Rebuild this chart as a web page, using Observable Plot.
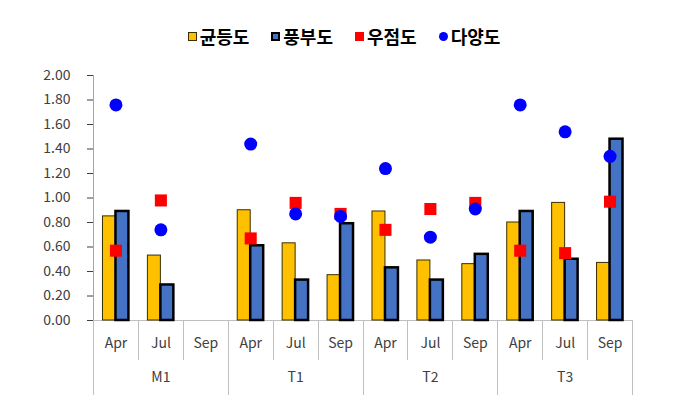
<!DOCTYPE html>
<html><head><meta charset="utf-8">
<script src="https://cdn.jsdelivr.net/npm/d3@7"></script>
<script src="https://cdn.jsdelivr.net/npm/@observablehq/plot@0.6"></script>
<style>
body{margin:0;background:#fff;}
#wrap{position:relative;width:688px;height:401px;}
#legend{position:absolute;top:0;left:0;width:688px;height:72px;display:flex;justify-content:center;align-items:center;font-family:"Noto Sans CJK KR",sans-serif;font-weight:700;font-size:18px;color:#000;z-index:2;}
.item{display:flex;align-items:center;margin:0 11px;}
.sw{width:9px;height:9px;margin-right:3px;box-sizing:border-box;}
</style></head><body><div id="wrap"><div id="legend"></div></div>
<script>
const groups = ["M1", "T1", "T2", "T3"];
const months = ["Apr", "Jul", "Sep"];
const seriesNames = ["균등도", "풍부도", "우점도", "다양도"];
const seriesColors = ["#FFC000", "#4472C4", "#FF0000", "#0000FF"];
// order: M1 Apr, Jul, Sep, T1 Apr, Jul, Sep, T2 ..., T3 ...
const evenness  = [0.85, 0.53, null, 0.90, 0.63, 0.37, 0.89, 0.49, 0.46, 0.80, 0.96, 0.47];
const richness  = [0.89, 0.29, null, 0.61, 0.33, 0.79, 0.43, 0.33, 0.54, 0.89, 0.50, 1.48];
const dominance = [0.57, 0.98, null, 0.67, 0.96, 0.87, 0.74, 0.91, 0.96, 0.57, 0.55, 0.97];
const diversity = [1.76, 0.74, null, 1.44, 0.87, 0.85, 1.24, 0.68, 0.91, 1.76, 1.54, 1.34];
const yTicks = [0, 0.2, 0.4, 0.6, 0.8, 1.0, 1.2, 1.4, 1.6, 1.8, 2.0];

const keys = groups.flatMap(g => months.map(m => `${g} ${m}`));
const rows = keys.map((k, i) => ({
  key: k, even: evenness[i], rich: richness[i], dom: dominance[i], div: diversity[i]
})).filter(d => d.even != null);

// legend
const legend = document.getElementById("legend");
seriesNames.forEach((name, i) => {
  const item = document.createElement("div");
  item.className = "item";
  const sw = document.createElement("span");
  sw.className = "sw";
  sw.style.background = seriesColors[i];
  if (i === 0) sw.style.border = "1.5px solid #3a2e00";
  if (i === 1) sw.style.border = "2px solid #000";
  if (i === 3) sw.style.borderRadius = "50%";
  const t = document.createElement("span");
  t.textContent = name;
  item.appendChild(sw); item.appendChild(t);
  legend.appendChild(item);
});

const plot = Plot.plot({
  width: 688, height: 401,
  marginTop: 75, marginBottom: 81, marginLeft: 93, marginRight: 56,
  style: {fontFamily: "'Noto Sans CJK KR', sans-serif", fontSize: "14px", color: "#404040", background: "transparent"},
  fx: {domain: keys, paddingInner: 0, paddingOuter: 0, round: false, label: null},
  x: {domain: seriesNames.slice(0, 2), paddingInner: 0, paddingOuter: 0.73, round: false, axis: null},
  y: {domain: [0, 2], ticks: yTicks, tickFormat: d => d.toFixed(2), tickSize: 6, tickPadding: 17, label: null},
  marks: [
    Plot.axisFx({anchor: "bottom", tickSize: 0, tickPadding: 18, tickFormat: k => k.split(" ")[1], label: null}),
    Plot.ruleY(keys, {fx: d => d, y: () => 0, stroke: "#bfbfbf", shapeRendering: "crispEdges"}),
    Plot.barY(rows, {fx: "key", x: () => seriesNames[0], y: "even", fill: seriesColors[0], stroke: "#3a2e00", strokeWidth: 1}),
    Plot.barY(rows, {fx: "key", x: () => seriesNames[1], y: "rich", fill: seriesColors[1], stroke: "#000", strokeWidth: 2.5}),
    Plot.dot(rows, {fx: "key", y: "dom", symbol: "square", fill: seriesColors[2], r: 6.8}),
    Plot.dot(rows, {fx: "key", y: "div", symbol: "circle", fill: seriesColors[3], r: 6.5}),
    Plot.text(groups, {fx: g => `${g} Jul`, text: d => d, frameAnchor: "bottom", dy: 61, fill: "#404040", fontSize: 14})
  ]
});

// axis line and category separators, positioned via Plot's scales
const fx = plot.scale("fx"), ys = plot.scale("y");
const y0 = ys.apply(0), yTop = ys.apply(2);
const svg = d3.select(plot);
const g = svg.insert("g", "g").attr("shape-rendering", "crispEdges").attr("fill", "none");
const xEdge = i => i < keys.length ? fx.apply(keys[i]) : fx.apply(keys[keys.length - 1]) + fx.bandwidth;
for (let i = 0; i <= keys.length; i++) {
  const x = Math.round(xEdge(i)) + 0.5;
  const isGroup = i % 3 === 0;
  g.append("line").attr("x1", x).attr("x2", x).attr("y1", y0).attr("y2", y0 + (isGroup ? 75 : 40))
    .attr("stroke", "#bfbfbf");
}
g.append("line").attr("x1", Math.round(xEdge(0)) + 0.5).attr("x2", Math.round(xEdge(0)) + 0.5)
  .attr("y1", yTop).attr("y2", y0).attr("stroke", "#a6a6a6");
svg.selectAll("[aria-label='y-axis tick']").attr("stroke", "#a6a6a6");

document.getElementById("wrap").appendChild(plot);
</script>
</body></html>
